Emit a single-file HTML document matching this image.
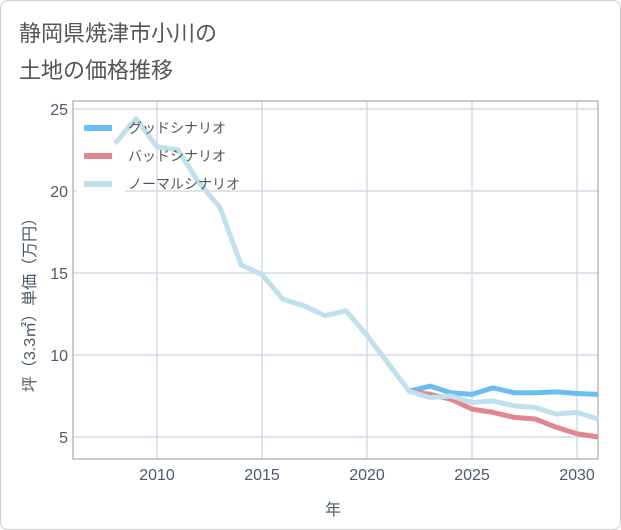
<!DOCTYPE html>
<html><head><meta charset="utf-8"><style>
body{margin:0;background:#fff;font-family:"Liberation Sans","Noto Sans CJK JP",sans-serif;}
#wrap{position:relative;width:619px;height:528px;border:1px solid #ccc;border-radius:8px;overflow:hidden;}
</style></head><body>
<div id="wrap">
<svg id="chart" width="621" height="530">
<text x="18" y="40" font-size="22" fill="#555">静岡県焼津市小川の</text>
<text x="18" y="77" font-size="22" fill="#555">土地の価格推移</text>
<g id="grid"></g><g id="legend"></g><g id="series"></g><g id="legendtext"></g>
<text x="332" y="514" font-size="16" fill="#4a5a6a" text-anchor="middle">年</text>
<text transform="translate(34,300) rotate(-90)" font-size="16" fill="#4a5a6a" text-anchor="middle">坪（3.3㎡）単価（万円）</text>
</svg></div>
<script>
const years=[2008,2009,2010,2011,2012,2013,2014,2015,2016,2017,2018,2019,2020,2021,2022,2023,2024,2025,2026,2027,2028,2029,2030,2031];
const normal=[22.9,24.4,22.7,22.5,20.5,19.0,15.5,14.9,13.4,13.0,12.4,12.7,11.2,9.5,7.8,7.4,7.5,7.1,7.2,6.9,6.8,6.4,6.5,6.1];
const goodYears=[2022,2023,2024,2025,2026,2027,2028,2029,2030,2031];
const good=[7.8,8.1,7.7,7.6,8.0,7.7,7.7,7.75,7.65,7.6];
const bad=[7.8,7.6,7.3,6.7,6.5,6.2,6.1,5.6,5.2,5.0];
const xTicks=[2010,2015,2020,2025,2030];
const yTicks=[5,10,15,20,25];
const L=72,R=597,T=100,B=458;
const x=v=>156+(v-2010)*21;
const y=v=>436-(v-5)*16.4;
const NS="http://www.w3.org/2000/svg";
function mk(p,t,a){const e=document.createElementNS(NS,t);for(const k in a)e.setAttribute(k,a[k]);p.appendChild(e);return e;}
const g=document.getElementById('grid');
xTicks.forEach(t=>{
 const l=mk(g,'line',{x1:x(t),x2:x(t),y1:T,y2:B,stroke:'#d0dce8','stroke-width':1.5});
 
 
 const tx=mk(g,'text',{x:x(t),y:479,'font-size':16,fill:'#4a5a6a','text-anchor':'middle'});tx.textContent=t;
 
 
});
yTicks.forEach(t=>{
 const l=mk(g,'line',{x1:L,x2:R,y1:y(t),y2:y(t),stroke:'#d0dce8','stroke-width':1.5});
 
 
 const tx=mk(g,'text',{x:67,y:y(t)+6,'font-size':16,fill:'#4a5a6a','text-anchor':'end'});tx.textContent=t;
 
 
});
const fr=mk(g,'rect',{x:L,y:T,width:R-L,height:B-T,fill:'none',stroke:'#999','stroke-width':1});


const s=document.getElementById('series');
function line(xs,ys,c,n){
 const p=mk(s,'polyline',{points:xs.map((v,i)=>x(v)+','+y(ys[i])).join(' '),fill:'none',stroke:c,'stroke-width':5,'stroke-linejoin':'round'});
 
 
}
line(goodYears,good,'#6bbcf0','good-scenario-line');
line(goodYears,bad,'#e0868e','bad-scenario-line');
line(years,normal,'#bfe0ec','normal-scenario-line');
const lg=document.getElementById('legend');
const lt=document.getElementById('legendtext');
const bg=mk(lg,'rect',{x:76,y:110,width:48,height:86,fill:'#fff'});


[['グッドシナリオ','#6bbcf0',127],['バッドシナリオ','#e0868e',155],['ノーマルシナリオ','#bfe0ec',183]].forEach((d,i)=>{
 const r=mk(lt,'line',{x1:83,x2:111,y1:d[2],y2:d[2],stroke:d[1],'stroke-width':6});
 
 
 const t=mk(lt,'text',{x:127,y:d[2]+5,'font-size':14,fill:'#555'});t.textContent=d[0];
 
 
});
</script>
</body></html>
